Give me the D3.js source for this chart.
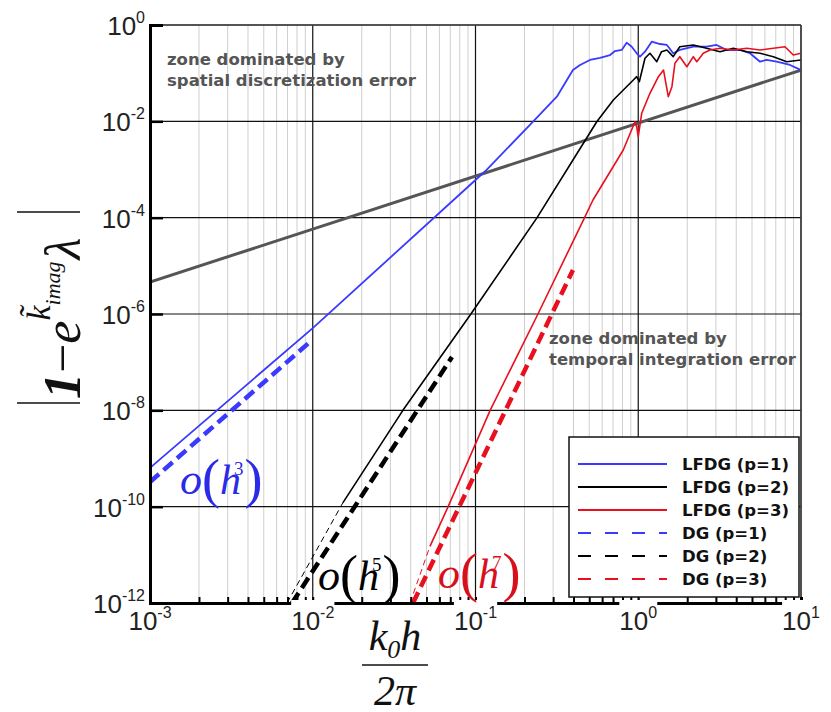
<!DOCTYPE html>
<html>
<head>
<meta charset="utf-8">
<script src="https://cdn.jsdelivr.net/npm/d3@7"></script>
<style>
  body { margin: 0; background: #fff; }
  svg { display: block; }
</style>
</head>
<body>
<div id="chart"></div>
<script>
// values: [k0*h/(2*pi), |1 - e^(...)|]
const lfdgP1 = [[1e-3, 6.4e-10], [0.01, 5.1e-7], [0.1, 6.05e-4], [0.117, 9.8e-4], [0.225, 9.8e-3],
  [0.316, 0.0325], [0.397, 0.116], [0.439, 0.148], [0.505, 0.188], [0.582, 0.207], [0.671, 0.238],
  [0.72, 0.288], [0.791, 0.303], [0.849, 0.43], [0.912, 0.354], [0.978, 0.259], [1.025, 0.22],
  [1.10, 0.279], [1.21, 0.45], [1.36, 0.403], [1.50, 0.385], [1.64, 0.259], [1.80, 0.303],
  [2.18, 0.354], [2.63, 0.354], [3.03, 0.385], [3.50, 0.303], [4.22, 0.303], [4.86, 0.259],
  [5.6, 0.173], [6.15, 0.188], [7.09, 0.173], [8.56, 0.148], [10, 0.116]];
const lfdgP2 = [[0.0153, 1.2e-10], [0.0358, 1e-8], [0.0937, 1e-6], [0.239, 1e-4],
  [0.482, 4.5e-3], [0.556, 9.8e-3], [0.703, 0.0277], [0.933, 0.0721], [0.978, 0.0845], [1.015, 0.0665],
  [1.10, 0.204], [1.18, 0.259], [1.30, 0.173], [1.39, 0.279], [1.50, 0.303], [1.64, 0.22],
  [1.80, 0.354], [2.18, 0.385], [2.63, 0.328], [3.18, 0.279], [3.84, 0.328], [4.64, 0.279],
  [5.6, 0.259], [6.76, 0.22], [8.17, 0.173], [10, 0.188]];
const lfdgP3 = [[0.0525, 1.5e-11], [0.0678, 9.9e-11], [0.123, 1e-8], [0.242, 1e-6], [0.46, 8.9e-5],
  [0.527, 2.33e-4], [0.809, 2.54e-3], [0.955, 9.8e-3], [0.978, 7.7e-3], [1.0, 4.8e-3], [1.05, 0.0147],
  [1.18, 0.0382], [1.33, 0.0845], [1.43, 0.116], [1.53, 0.0325], [1.61, 0.0524], [1.68, 0.16],
  [1.80, 0.22], [1.99, 0.136], [2.18, 0.22], [2.29, 0.173], [2.51, 0.259], [2.76, 0.303],
  [3.18, 0.328], [3.84, 0.303], [4.64, 0.328], [5.6, 0.303], [6.76, 0.328], [7.97, 0.354],
  [8.97, 0.238], [10, 0.259]];
const dgP1 = [[1e-3, 3.26e-10], [9.6e-3, 2.62e-7]];
const dgP2 = [[7.46e-3, 1e-12], [0.0717, 1.28e-7]];
const dgP3 = [[0.0413, 1e-12], [0.397, 8.2e-6]];
const extP2 = [[0.00695, 1e-12], [0.0153, 1.2e-10]];
const extP3 = [[0.0396, 1e-12], [0.0525, 1.5e-11]];
const zoneBoundary = [[1e-3, 4.6e-6], [10, 0.116]];

const xTicks = [1e-3, 1e-2, 1e-1, 1, 10];
const xTickExp = ["-3", "-2", "-1", "0", "1"];
const yTicks = [1, 1e-2, 1e-4, 1e-6, 1e-8, 1e-10, 1e-12];
const yTickExp = ["0", "-2", "-4", "-6", "-8", "-10", "-12"];
const legendNames = ["LFDG (p=1)", "LFDG (p=2)", "LFDG (p=3)", "DG (p=1)", "DG (p=2)", "DG (p=3)"];

const W = 831, H = 712;
const blue = "#3a3aff", red = "#e8101e";

const svg = d3.select("#chart").append("svg")
  .attr("width", W).attr("height", H);

const x = d3.scaleLog().domain([1e-3, 10]).range([150, 801]);
const y = d3.scaleLog().domain([1e-12, 1]).range([603, 25]);

svg.append("clipPath").attr("id", "plot")
  .append("rect").attr("x", 150).attr("y", 25).attr("width", 651).attr("height", 578);

// grid
const grid = svg.append("g");
grid.selectAll(".minor").data(x.ticks().filter(d => !xTicks.includes(d)))
  .join("line")
    .attr("x1", d => x(d)).attr("x2", d => x(d))
    .attr("y1", 25).attr("y2", 603)
    .attr("stroke", "#cfcfcf").attr("stroke-width", 1);
grid.selectAll(".vmajor").data(xTicks)
  .join("line")
    .attr("x1", d => x(d)).attr("x2", d => x(d))
    .attr("y1", 25).attr("y2", 603)
    .attr("stroke", "#111").attr("stroke-width", 1.2);
grid.selectAll(".hmajor").data(yTicks)
  .join("line")
    .attr("x1", 150).attr("x2", 801)
    .attr("y1", d => y(d)).attr("y2", d => y(d))
    .attr("stroke", "#111").attr("stroke-width", 1.2);

const line = d3.line().x(d => x(d[0])).y(d => y(d[1]));
const plot = svg.append("g").attr("clip-path", "url(#plot)");

plot.append("path").datum(zoneBoundary).attr("d", line)
  .attr("fill", "none").attr("stroke", "#555").attr("stroke-width", 3);

const series = [
  {data: lfdgP1, color: blue, w: 1.8, dash: null},
  {data: lfdgP2, color: "#000", w: 1.6, dash: null},
  {data: lfdgP3, color: red, w: 1.6, dash: null},
  {data: extP2, color: "#000", w: 1, dash: "6,4"},
  {data: extP3, color: red, w: 1, dash: "6,4"},
  {data: dgP1, color: blue, w: 4.5, dash: "12,6"},
  {data: dgP2, color: "#000", w: 4.5, dash: "12,6"},
  {data: dgP3, color: red, w: 4.5, dash: "12,6"}
];
plot.selectAll(".series").data(series)
  .join("path")
    .attr("d", d => line(d.data))
    .attr("fill", "none")
    .attr("stroke", d => d.color)
    .attr("stroke-width", d => d.w)
    .attr("stroke-dasharray", d => d.dash)
    .attr("stroke-linejoin", "round");

// frame
svg.append("line").attr("x1", 150).attr("x2", 801).attr("y1", 25).attr("y2", 25)
  .attr("stroke", "#444").attr("stroke-width", 1.5);
svg.append("line").attr("x1", 801).attr("x2", 801).attr("y1", 25).attr("y2", 603)
  .attr("stroke", "#444").attr("stroke-width", 1.5);

// bottom axis (ticks inward)
svg.append("g")
  .attr("transform", "translate(0,603)")
  .call(d3.axisBottom(x).tickValues(x.ticks()).tickSize(-6).tickFormat(""))
  .call(g => g.select(".domain").attr("stroke", "#000").attr("stroke-width", 3))
  .call(g => g.selectAll(".tick line").attr("stroke", "#000").attr("stroke-width", 2));

// left axis
svg.append("g")
  .attr("transform", "translate(150,0)")
  .call(d3.axisLeft(y).tickValues(yTicks).tickSize(-13).tickFormat(""))
  .call(g => g.select(".domain").attr("stroke", "#000").attr("stroke-width", 3))
  .call(g => g.selectAll(".tick line").attr("stroke", "#000").attr("stroke-width", 2.5));

// tick labels
const tickFont = "'Liberation Sans', Arial, sans-serif";
const yl = svg.append("g").attr("font-family", tickFont).attr("fill", "#222");
yTicks.forEach((v, i) => {
  const t = yl.append("text").attr("x", 145).attr("y", y(v) + 10).attr("text-anchor", "end");
  t.append("tspan").attr("font-size", 26).text("10");
  t.append("tspan").attr("font-size", 16).attr("dy", -12).text(yTickExp[i]);
});
const xl = svg.append("g").attr("font-family", tickFont).attr("fill", "#222");
xTicks.forEach((v, i) => {
  const t = xl.append("text").attr("x", x(v)).attr("y", 630).attr("text-anchor", "middle");
  t.append("tspan").attr("font-size", 26).text("10");
  t.append("tspan").attr("font-size", 16).attr("dy", -12).text(xTickExp[i]);
  if (i > 0) {
    const b = t.node().getBBox();
    xl.insert("rect", "text").attr("x", b.x).attr("y", 600).attr("width", b.width).attr("height", 8)
      .attr("fill", "#fff");
  }
});

// zone notes
const noteFont = "'DejaVu Sans', Verdana, sans-serif";
[[167, 65, "zone dominated by", "spatial discretization error"],
 [549, 344, "zone dominated by", "temporal integration error"]].forEach(n => {
  const t = svg.append("text").attr("font-family", noteFont).attr("font-weight", "bold")
    .attr("font-size", 16.5).attr("fill", "#555");
  t.append("tspan").attr("x", n[0]).attr("y", n[1]).text(n[2]);
  t.append("tspan").attr("x", n[0]).attr("y", n[1] + 21).text(n[3]);
});

// order labels O(h^n)
const serif = "'Liberation Serif', 'Times New Roman', serif";
[[180, 494, "3", "#2a2ae8"], [318, 590, "5", "#000"], [438, 588, "7", "#d8101c"]].forEach(o => {
  const t = svg.append("text").attr("x", o[0]).attr("y", o[1])
    .attr("font-family", serif).attr("fill", o[3]);
  t.append("tspan").attr("font-size", 44).attr("font-style", "italic").text("o");
  t.append("tspan").attr("font-size", 54).attr("dy", 3).text("(");
  t.append("tspan").attr("font-size", 42).attr("font-style", "italic").attr("dy", -3).text("h");
  t.append("tspan").attr("font-size", 19).attr("dx", -7).attr("dy", -19).text(o[2]);
  t.append("tspan").attr("font-size", 54).attr("dx", 1).attr("dy", 22).text(")");
});

// x axis label: k0 h / 2 pi
const xt = svg.append("text").attr("x", 395).attr("y", 650).attr("text-anchor", "middle")
  .attr("font-family", serif).attr("font-style", "italic").attr("fill", "#111");
xt.append("tspan").attr("font-size", 42).text("k");
xt.append("tspan").attr("font-size", 26).attr("dy", 8).text("0");
xt.append("tspan").attr("font-size", 42).attr("dy", -8).text("h");
svg.append("line").attr("x1", 362).attr("x2", 428).attr("y1", 665).attr("y2", 665)
  .attr("stroke", "#111").attr("stroke-width", 1.5);
svg.append("text").attr("x", 395).attr("y", 705).attr("text-anchor", "middle")
  .attr("font-family", serif).attr("font-style", "italic").attr("font-size", 42)
  .attr("fill", "#111").text("2π");

// y axis label: |1 - e^(k~imag) lambda|
const ylab = svg.append("g").attr("transform", "translate(80,307) rotate(-90)");
const yt = ylab.append("text").attr("x", -92).attr("y", 0)
  .attr("font-family", serif).attr("font-style", "italic").attr("fill", "#111");
yt.append("tspan").attr("font-size", 52).attr("font-weight", "bold").text("1");
yt.append("tspan").attr("font-size", 52).attr("font-style", "normal").text("−");
yt.append("tspan").attr("font-size", 52).text("e");
yt.append("tspan").attr("font-size", 34).attr("dy", -30).text("k\u0303");
yt.append("tspan").attr("font-size", 22).attr("dy", 10).text("imag");
yt.append("tspan").attr("font-size", 50).attr("dx", 2).attr("dy", 20).text("λ");
[-96, 95].forEach(gx => {
  ylab.append("line").attr("x1", gx).attr("x2", gx).attr("y1", -63).attr("y2", 0)
    .attr("stroke", "#111").attr("stroke-width", 1.5);
});

// legend
const lg = svg.append("g");
lg.append("rect").attr("x", 569).attr("y", 437).attr("width", 230).attr("height", 160)
  .attr("fill", "#fff").attr("stroke", "#111").attr("stroke-width", 1.5);
const legendStyles = [
  {color: blue, dash: null}, {color: "#000", dash: null}, {color: red, dash: null},
  {color: blue, dash: "13,14"}, {color: "#000", dash: "13,14"}, {color: red, dash: "13,14"}
];
legendNames.forEach((name, i) => {
  const yy = 464 + i * 23;
  lg.append("line").attr("x1", 578).attr("x2", 667).attr("y1", yy).attr("y2", yy)
    .attr("stroke", legendStyles[i].color).attr("stroke-width", 2)
    .attr("stroke-dasharray", legendStyles[i].dash);
  lg.append("text").attr("x", 682).attr("y", yy + 6)
    .attr("font-family", noteFont).attr("font-weight", "bold").attr("font-size", 16.5)
    .attr("fill", "#111").text(name);
});
</script>
</body>
</html>
